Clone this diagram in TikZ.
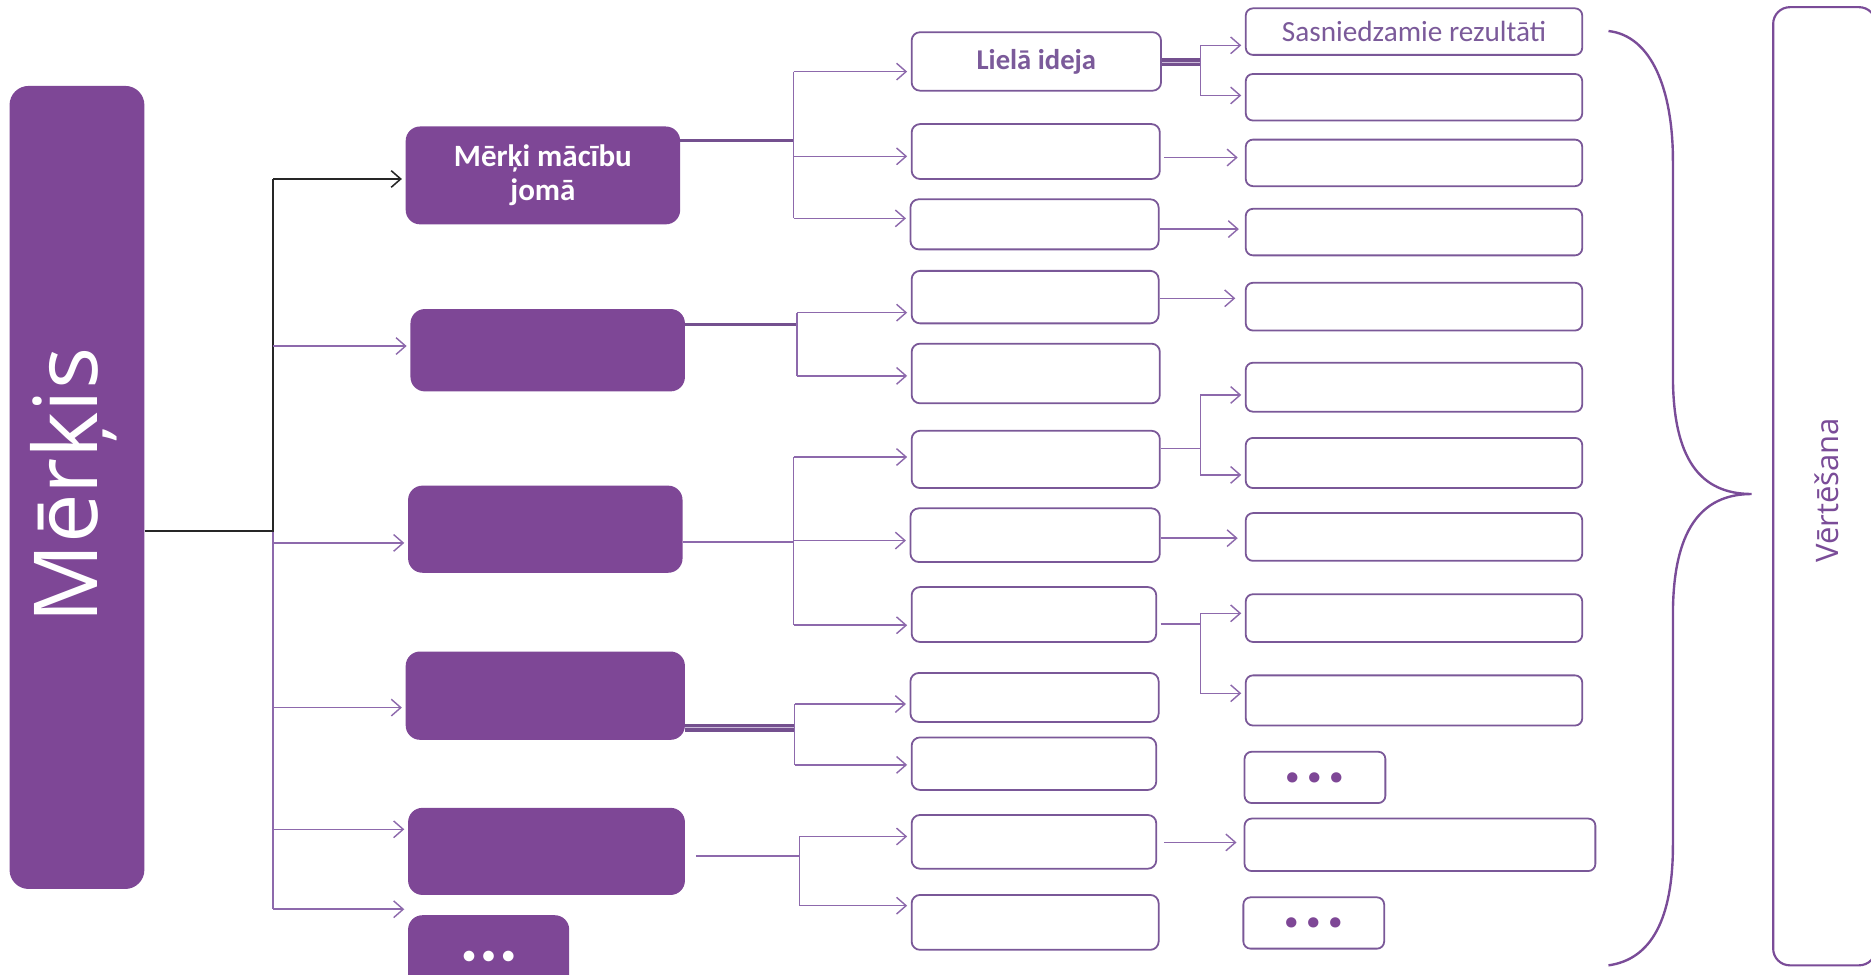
\documentclass[tikz,border=0pt]{standalone}
\usepackage{fontspec}
\setmainfont{Carlito}
\newfontfamily\osans{Open Sans}
\usetikzlibrary{arrows.meta}
\definecolor{pfill}{HTML}{7E4796}
\definecolor{pline}{HTML}{8D69AC}
\definecolor{pdark}{HTML}{74508F}
\definecolor{pborder}{HTML}{7A5898}
\definecolor{ptext}{HTML}{7B5A9A}
\definecolor{pbrace}{HTML}{7A4C98}
\begin{document}
\begin{tikzpicture}[x=1pt,y=-1pt,
  sz/.style 2 args={minimum width=#1pt, minimum height=#2pt},
  fbox/.style={fill=pfill, draw=none, rounded corners=12pt, inner sep=0pt, text=white,
    font=\fontsize{26}{30}\selectfont\bfseries, align=center},
  wbox/.style={draw=pborder, line width=1.5pt, fill=white, rounded corners=7pt, inner sep=0pt},
  cbox/.style={wbox, rounded corners=6pt},
  conn/.style={draw=pline, line width=1.3pt},
  dconn/.style={draw=pdark, line width=2.2pt},
  dbl/.style={draw=pdark, line width=3.2pt, double=pline!45, double distance=0.9pt},
  arr/.style={conn, shorten >=3pt, -{Straight Barb[length=8pt,width=14pt,line width=1.2pt]}},
  blk/.style={draw=black!85, line width=1.5pt},
  blkarr/.style={blk, shorten >=3pt, -{Straight Barb[length=8pt,width=14pt,line width=1.3pt]}},
  dots/.style={font=\fontsize{58}{58}\selectfont\bfseries, inner sep=0pt},
  bdots/.style={font=\fontsize{21}{22}\selectfont\bfseries, inner sep=0pt}
]
\useasboundingbox (0,0) rectangle (1568,816.3);
\clip (0,0) rectangle (1568,816.3);

% main goal
\node[fbox, rounded corners=16pt, sz={113}{673}] (m0) at (64.5,408.5) {};
\node[text=white, rotate=90, font=\osans\fontsize{74}{80}\selectfont] (m0t) at (62,407) {Mērķis};

% level 1
\node[fbox, sz={230}{82}] (m1) at (455,147) {Mērķi mācību\\[-2pt]jomā};
\node[fbox, sz={230}{69}] (m2) at (459,293.5) {};
\node[fbox, sz={230}{73}] (m3) at (457,443.5) {};
\node[fbox, sz={234}{74}] (m4) at (457,583) {};
\node[fbox, sz={232}{73}] (m5) at (458,713.5) {};
\node[fbox, sz={135}{78}] (m6) at (409.5,806) {};
\node[bdots, text=white] (m6t) at (409.5,802) {•\hspace{6pt}•\hspace{6pt}•};

% level 2
\node[wbox, sz={209}{49}, text=ptext, font=\fontsize{24}{28}\selectfont\bfseries] (a1) at (868.5,51.5) {Lielā ideja};
\node[wbox, sz={208}{46}] (a2) at (868,127) {};
\node[wbox, sz={208}{42}] (a3) at (867,188) {};
\node[wbox, sz={207}{44}] (a4) at (867.5,249) {};
\node[wbox, sz={208}{50}] (a5) at (868,313) {};
\node[wbox, sz={208}{48}] (a6) at (868,385) {};
\node[wbox, sz={209}{45}] (a7) at (867.5,448.5) {};
\node[wbox, sz={205}{46}] (a8) at (866.5,515) {};
\node[wbox, sz={208}{41}] (a9) at (867,584.5) {};
\node[wbox, sz={205}{44}] (a10) at (866.5,640) {};
\node[wbox, sz={205}{45}] (a11) at (866.5,705.5) {};
\node[wbox, sz={207}{46}] (a12) at (867.5,773) {};

% level 3
\node[cbox, sz={282}{39}, text=ptext, font=\fontsize{24.5}{28}\selectfont] (b1) at (1185,26.5) {Sasniedzamie rezultāti};
\node[cbox, sz={282}{39}] (b2) at (1185,81.5) {};
\node[cbox, sz={282}{39}] (b3) at (1185,136.5) {};
\node[cbox, sz={282}{39}] (b4) at (1185,194.5) {};
\node[cbox, sz={282}{40}] (b5) at (1185,257) {};
\node[cbox, sz={282}{41}] (b6) at (1185,324.5) {};
\node[cbox, sz={282}{42}] (b7) at (1185,388) {};
\node[cbox, sz={282}{40}] (b8) at (1185,450) {};
\node[cbox, sz={282}{40}] (b9) at (1185,518) {};
\node[cbox, sz={282}{42}] (b10) at (1185,587) {};
\node[cbox, sz={118}{43}, text=pfill, dots] (b11) at (1102,651.5) {\raisebox{-4pt}{.\hspace{3pt}.\hspace{3pt}.}};
\node[cbox, sz={294}{44}] (b12) at (1190,708) {};
\node[cbox, sz={118}{43}, text=pfill, dots] (b13) at (1101,773.5) {\raisebox{-2pt}{.\hspace{3pt}.\hspace{3pt}.}};

% assessment
\node[wbox, draw=pbrace, line width=1.8pt, rounded corners=14pt, sz={86}{803}] (v) at (1529,407.5) {};
\node[rotate=90, text=pbrace, font=\osans\fontsize{26}{30}\selectfont] (vt) at (1531,411) {Vērtēšana};

% brace
\draw[draw=pbrace, line width=2pt] (1348,26) .. controls (1384,30) and (1402,75) .. (1402,135)
  -- (1402,315) .. controls (1402,385) and (1425,414) .. (1468,414)
  .. controls (1425,414) and (1402,445) .. (1402,515)
  -- (1402,708) .. controls (1402,770) and (1384,804) .. (1348,809);

% level 0 -> level 1
\coordinate (tr) at (229,445);
\draw[conn] (tr) -- (tr |- 0,762);
\draw[blk] (m0.east |- tr) -- (tr) -- (tr |- 0,150);
\draw[blkarr] (tr |- 0,150) -- (m1.west |- 0,150);
\draw[arr] (tr |- 0,290) -- (m2.west |- 0,290);
\draw[arr] (tr |- 0,455) -- (m3.west |- 0,455);
\draw[arr] (tr |- 0,593) -- (m4.west |- 0,593);
\draw[arr] (tr |- 0,695) -- (m5.west |- 0,695);
\draw[arr] (tr |- 0,762) -- (m6.west |- 0,762);

% level 1 -> level 2
\coordinate (j1) at (665,118);
\draw[dconn] (m1.east |- j1) -- (j1);
\draw[conn] (j1 |- 0,60) -- (j1 |- 0,183);
\draw[arr] (j1 |- 0,60) -- (a1.west |- 0,60);
\draw[arr] (j1 |- 0,131) -- (a2.west |- 0,131);
\draw[arr] (j1 |- 0,183) -- (a3.west |- 0,183);

\coordinate (j2) at (668,272);
\draw[dconn] (m2.east |- j2) -- (j2);
\draw[conn] (j2 |- 0,262) -- (j2 |- 0,315);
\draw[arr] (j2 |- 0,262) -- (a4.west |- 0,262);
\draw[arr] (j2 |- 0,315) -- (a5.west |- 0,315);

\coordinate (j3) at (665,454);
\draw[conn, line width=1.6pt] (m3.east |- j3) -- (j3);
\draw[conn] (j3 |- 0,383) -- (j3 |- 0,524);
\draw[arr] (j3 |- 0,383) -- (a6.west |- 0,383);
\draw[arr] (j3 |- 0,453) -- (a7.west |- 0,453);
\draw[arr] (j3 |- 0,524) -- (a8.west |- 0,524);

\coordinate (j4) at (666,610);
\draw[dbl] (m4.east |- j4) -- (j4);
\draw[conn] (j4 |- 0,590) -- (j4 |- 0,641);
\draw[arr] (j4 |- 0,590) -- (a9.west |- 0,590);
\draw[arr] (j4 |- 0,641) -- (a10.west |- 0,641);

\coordinate (j5) at (670,717);
\draw[conn, line width=1.6pt, shorten <=9pt] (m5.east |- j5) -- (j5);
\draw[conn] (j5 |- 0,701) -- (j5 |- 0,759);
\draw[arr] (j5 |- 0,701) -- (a11.west |- 0,701);
\draw[arr] (j5 |- 0,759) -- (a12.west |- 0,759);

% level 2 -> level 3
\coordinate (k1) at (1006,52);
\draw[dbl] (a1.east |- k1) -- (k1);
\draw[conn] (k1 |- 0,38) -- (k1 |- 0,80);
\draw[arr] (k1 |- 0,38) -- (b1.west |- 0,38);
\draw[arr] (k1 |- 0,80) -- (b2.west |- 0,80);

\draw[arr, shorten <=3pt, shorten >=6pt] (a2.east |- 0,132) -- (b3.west |- 0,132);
\draw[arr, shorten >=5pt] (a3.east |- 0,192) -- (b4.west |- 0,192);
\draw[arr, shorten >=8pt] (a4.east |- 0,250) -- (b5.west |- 0,250);

\coordinate (k6) at (1006,376);
\draw[conn] (a6.east |- k6) -- (k6);
\draw[conn] (k6 |- 0,331) -- (k6 |- 0,398);
\draw[arr] (k6 |- 0,331) -- (b6.west |- 0,331);
\draw[arr] (k6 |- 0,398) -- (b7.west |- 0,398);

\draw[arr, shorten >=6pt] (a7.east |- 0,451) -- (b8.west |- 0,451);

\coordinate (k8) at (1006,523);
\draw[conn, shorten <=3pt] (a8.east |- k8) -- (k8);
\draw[conn] (k8 |- 0,514) -- (k8 |- 0,581);
\draw[arr] (k8 |- 0,514) -- (b9.west |- 0,514);
\draw[arr] (k8 |- 0,581) -- (b10.west |- 0,581);

\draw[arr, shorten <=6pt, shorten >=6pt] (a11.east |- 0,706) -- (b12.west |- 0,706);
\end{tikzpicture}
\end{document}
